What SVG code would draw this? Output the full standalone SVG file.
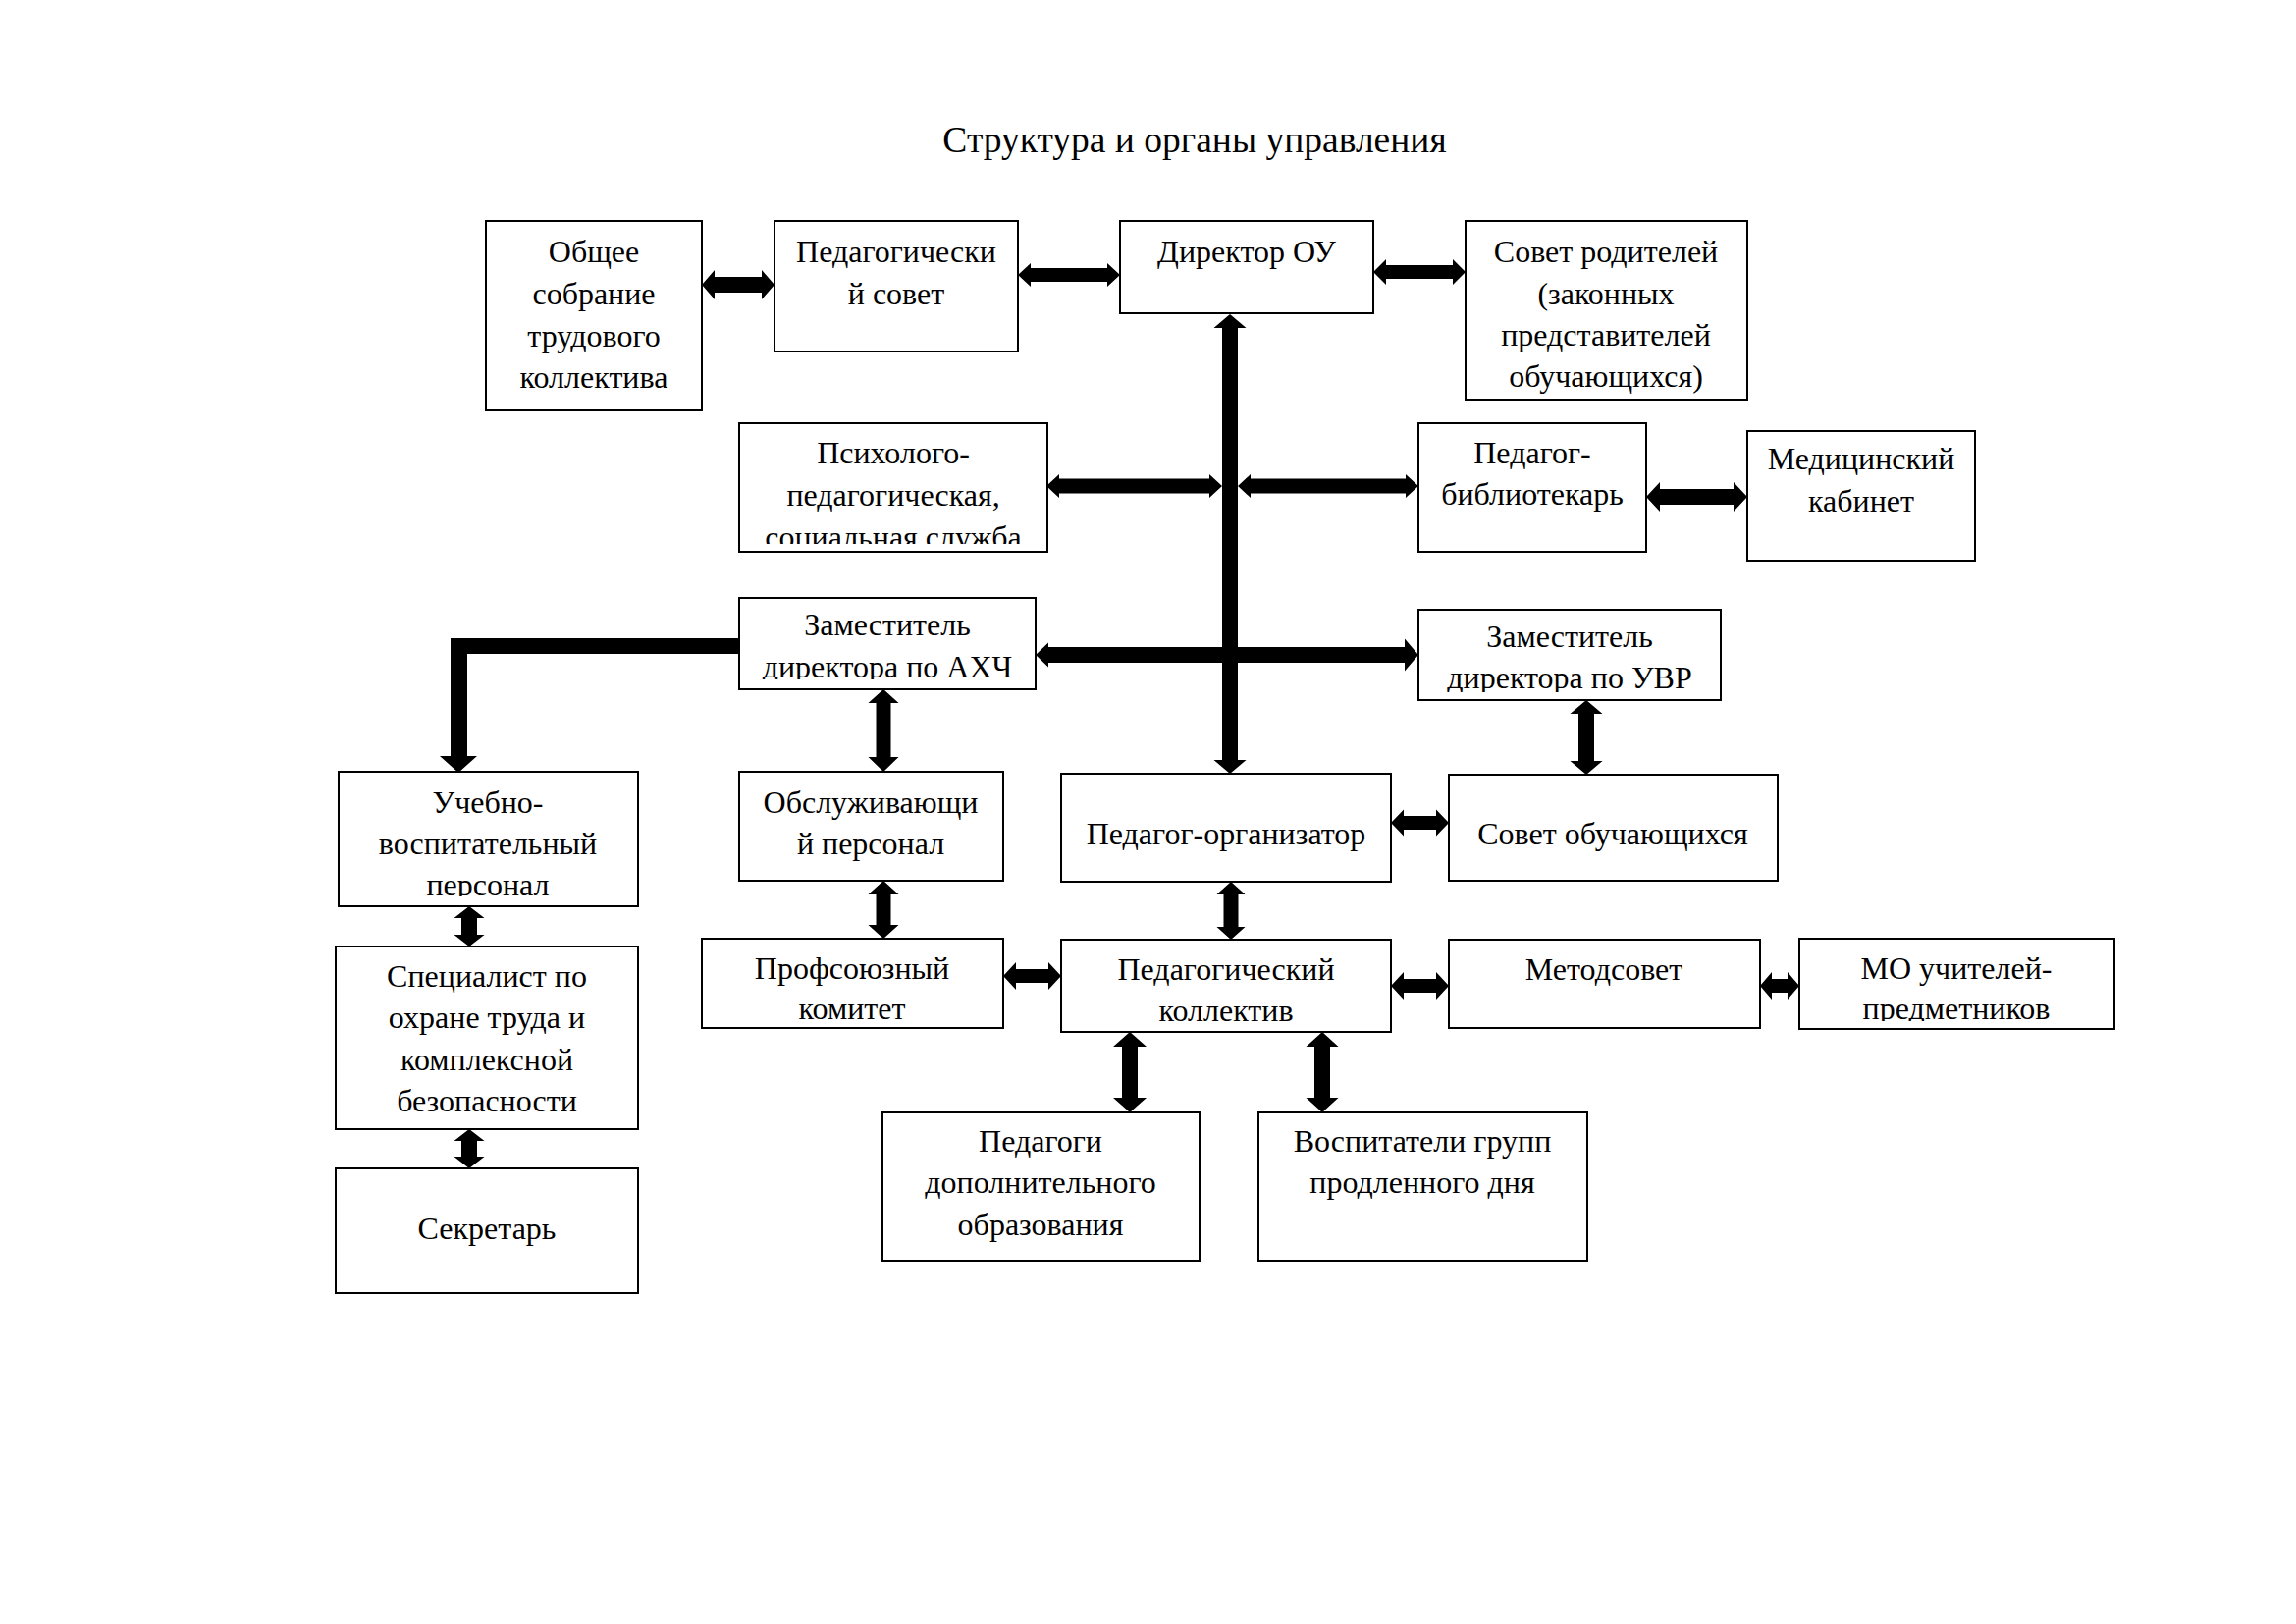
<svg xmlns="http://www.w3.org/2000/svg" width="2339" height="1654" viewBox="0 0 2339 1654">
<style>
.box{fill:#fff;stroke:#000;stroke-width:2}
.t{font-family:"Liberation Serif","Times New Roman",serif;font-size:32px;fill:#000;text-anchor:middle}
.title{font-family:"Liberation Serif","Times New Roman",serif;font-size:37.5px;fill:#000;text-anchor:middle}
.arr{fill:#000;stroke:none}
</style>
<defs>
<clipPath id="c5"><rect x="753" y="431" width="314" height="123"/></clipPath>
<clipPath id="c8"><rect x="753" y="609" width="302" height="83"/></clipPath>
<clipPath id="c9"><rect x="1445" y="621" width="308" height="84"/></clipPath>
<clipPath id="c10"><rect x="345" y="786" width="305" height="127"/></clipPath>
<clipPath id="c18"><rect x="1833" y="956" width="321" height="84"/></clipPath>
</defs>
<rect width="2339" height="1654" fill="#fff"/>
<text class="title" x="1217" y="155">Структура и органы управления</text>

<g id="n1"><rect class="box" x="495" y="225" width="220" height="193"/>
<text class="t" x="605" y="267">Общее</text><text class="t" x="605" y="310">собрание</text><text class="t" x="605" y="353">трудового</text><text class="t" x="605" y="395">коллектива</text></g>
<g id="n2"><rect class="box" x="789" y="225" width="248" height="133"/>
<text class="t" x="913" y="267">Педагогически</text><text class="t" x="913" y="310">й совет</text></g>
<g id="n3"><rect class="box" x="1141" y="225" width="258" height="94"/>
<text class="t" x="1270" y="267">Директор ОУ</text></g>
<g id="n4"><rect class="box" x="1493" y="225" width="287" height="182"/>
<text class="t" x="1636" y="267">Совет родителей</text><text class="t" x="1636" y="310">(законных</text><text class="t" x="1636" y="352">представителей</text><text class="t" x="1636" y="394">обучающихся)</text></g>
<g id="n5"><rect class="box" x="753" y="431" width="314" height="131"/>
<g clip-path="url(#c5)"><text class="t" x="910" y="472">Психолого-</text><text class="t" x="910" y="515">педагогическая,</text><text class="t" x="910" y="558">социальная служба</text></g></g>
<g id="n6"><rect class="box" x="1445" y="431" width="232" height="131"/>
<text class="t" x="1561" y="472">Педагог-</text><text class="t" x="1561" y="514">библиотекарь</text></g>
<g id="n7"><rect class="box" x="1780" y="439" width="232" height="132"/>
<text class="t" x="1896" y="478">Медицинский</text><text class="t" x="1896" y="521">кабинет</text></g>
<g id="n8"><rect class="box" x="753" y="609" width="302" height="93"/>
<g clip-path="url(#c8)"><text class="t" x="904" y="647">Заместитель</text><text class="t" x="904" y="690">директора по АХЧ</text></g></g>
<g id="n9"><rect class="box" x="1445" y="621" width="308" height="92"/>
<g clip-path="url(#c9)"><text class="t" x="1599" y="659">Заместитель</text><text class="t" x="1599" y="701">директора по УВР</text></g></g>
<g id="n10"><rect class="box" x="345" y="786" width="305" height="137"/>
<g clip-path="url(#c10)"><text class="t" x="497" y="828">Учебно-</text><text class="t" x="497" y="870">воспитательный</text><text class="t" x="497" y="912">персонал</text></g></g>
<g id="n11"><rect class="box" x="753" y="786" width="269" height="111"/>
<text class="t" x="887" y="828">Обслуживающи</text><text class="t" x="887" y="870">й персонал</text></g>
<g id="n12"><rect class="box" x="1081" y="788" width="336" height="110"/>
<text class="t" x="1249" y="860">Педагог-организатор</text></g>
<g id="n13"><rect class="box" x="1476" y="789" width="335" height="108"/>
<text class="t" x="1643" y="860">Совет обучающихся</text></g>
<g id="n14"><rect class="box" x="342" y="964" width="308" height="186"/>
<text class="t" x="496" y="1005">Специалист по</text><text class="t" x="496" y="1047">охране труда и</text><text class="t" x="496" y="1090">комплексной</text><text class="t" x="496" y="1132">безопасности</text></g>
<g id="n15"><rect class="box" x="715" y="956" width="307" height="91"/>
<text class="t" x="868" y="997">Профсоюзный</text><text class="t" x="868" y="1038">комитет</text></g>
<g id="n16"><rect class="box" x="1081" y="957" width="336" height="94"/>
<text class="t" x="1249" y="998">Педагогический</text><text class="t" x="1249" y="1040">коллектив</text></g>
<g id="n17"><rect class="box" x="1476" y="957" width="317" height="90"/>
<text class="t" x="1634" y="998">Методсовет</text></g>
<g id="n18"><rect class="box" x="1833" y="956" width="321" height="92"/>
<g clip-path="url(#c18)"><text class="t" x="1993" y="997">МО учителей-</text><text class="t" x="1993" y="1038">предметников</text></g></g>
<g id="n19"><rect class="box" x="342" y="1190" width="308" height="127"/>
<text class="t" x="496" y="1262">Секретарь</text></g>
<g id="n20"><rect class="box" x="899" y="1133" width="323" height="151"/>
<text class="t" x="1060" y="1173">Педагоги</text><text class="t" x="1060" y="1215">дополнительного</text><text class="t" x="1060" y="1258">образования</text></g>
<g id="n21"><rect class="box" x="1282" y="1133" width="335" height="151"/>
<text class="t" x="1449" y="1173">Воспитатели групп</text><text class="t" x="1449" y="1215">продленного дня</text></g>

<g id="connectors">
<path class="arr" d="M715,290 L728,275 L728,282 L776,282 L776,275 L789,290 L776,305 L776,298 L728,298 L728,305 Z"/>
<path class="arr" d="M1037,280 L1050,268 L1050,273 L1128,273 L1128,268 L1141,280 L1128,292 L1128,287 L1050,287 L1050,292 Z"/>
<path class="arr" d="M1399,277 L1412,264 L1412,270 L1480,270 L1480,264 L1493,277 L1480,290 L1480,284 L1412,284 L1412,290 Z"/>
<path class="arr" d="M1253,320 L1269.5,334 L1261,334 L1261,774 L1269.5,774 L1253,788 L1236.5,774 L1245,774 L1245,334 L1236.5,334 Z"/>
<path class="arr" d="M1066,495 L1079,483 L1079,487.5 L1232,487.5 L1232,483 L1245,495 L1232,507 L1232,502.5 L1079,502.5 L1079,507 Z"/>
<path class="arr" d="M1261,495 L1274,483 L1274,487.5 L1432,487.5 L1432,483 L1445,495 L1432,507 L1432,502.5 L1274,502.5 L1274,507 Z"/>
<path class="arr" d="M1677,506 L1691,491 L1691,498 L1766,498 L1766,491 L1780,506 L1766,521 L1766,514 L1691,514 L1691,521 Z"/>
<path class="arr" d="M1055,667 L1068,654.5 L1068,659 L1431,659 L1431,650.5 L1445,667 L1431,683.5 L1431,675 L1068,675 L1068,679.5 Z"/>
<path class="arr" d="M753,650 L459,650 L459,770 L448,770 L467,787 L486,770 L476,770 L476,666 L753,666 Z"/>
<path class="arr" d="M900,702 L915.5,716 L907.5,716 L907.5,771 L915.5,771 L900,786 L884.5,771 L892.5,771 L892.5,716 L884.5,716 Z"/>
<path class="arr" d="M900,897 L915.5,911 L907.5,911 L907.5,942 L915.5,942 L900,956 L884.5,942 L892.5,942 L892.5,911 L884.5,911 Z"/>
<path class="arr" d="M478,923 L493.5,935 L486,935 L486,952 L493.5,952 L478,964 L462.5,952 L470,952 L470,935 L462.5,935 Z"/>
<path class="arr" d="M478,1150 L493.5,1162 L486,1162 L486,1178 L493.5,1178 L478,1190 L462.5,1178 L470,1178 L470,1162 L462.5,1162 Z"/>
<path class="arr" d="M1022,994 L1035,980 L1035,987 L1068,987 L1068,980 L1081,994 L1068,1008 L1068,1001 L1035,1001 L1035,1008 Z"/>
<path class="arr" d="M1417,838 L1430,824.5 L1430,831 L1463,831 L1463,824.5 L1476,838 L1463,851.5 L1463,845 L1430,845 L1430,851.5 Z"/>
<path class="arr" d="M1616,713 L1632.5,727 L1624,727 L1624,775 L1632.5,775 L1616,789 L1599.5,775 L1608,775 L1608,727 L1599.5,727 Z"/>
<path class="arr" d="M1254,898 L1268.5,911 L1261.5,911 L1261.5,944 L1268.5,944 L1254,957 L1239.5,944 L1246.5,944 L1246.5,911 L1239.5,911 Z"/>
<path class="arr" d="M1417,1004 L1430,990 L1430,997 L1463,997 L1463,990 L1476,1004 L1463,1018 L1463,1011 L1430,1011 L1430,1018 Z"/>
<path class="arr" d="M1793,1004 L1805,990 L1805,997 L1821,997 L1821,990 L1833,1004 L1821,1018 L1821,1011 L1805,1011 L1805,1018 Z"/>
<path class="arr" d="M1151,1051 L1168,1066 L1159,1066 L1159,1118 L1168,1118 L1151,1133 L1134,1118 L1143,1118 L1143,1066 L1134,1066 Z"/>
<path class="arr" d="M1347,1051 L1363.5,1066 L1355,1066 L1355,1118 L1363.5,1118 L1347,1133 L1330.5,1118 L1339,1118 L1339,1066 L1330.5,1066 Z"/>
</g>
</svg>
